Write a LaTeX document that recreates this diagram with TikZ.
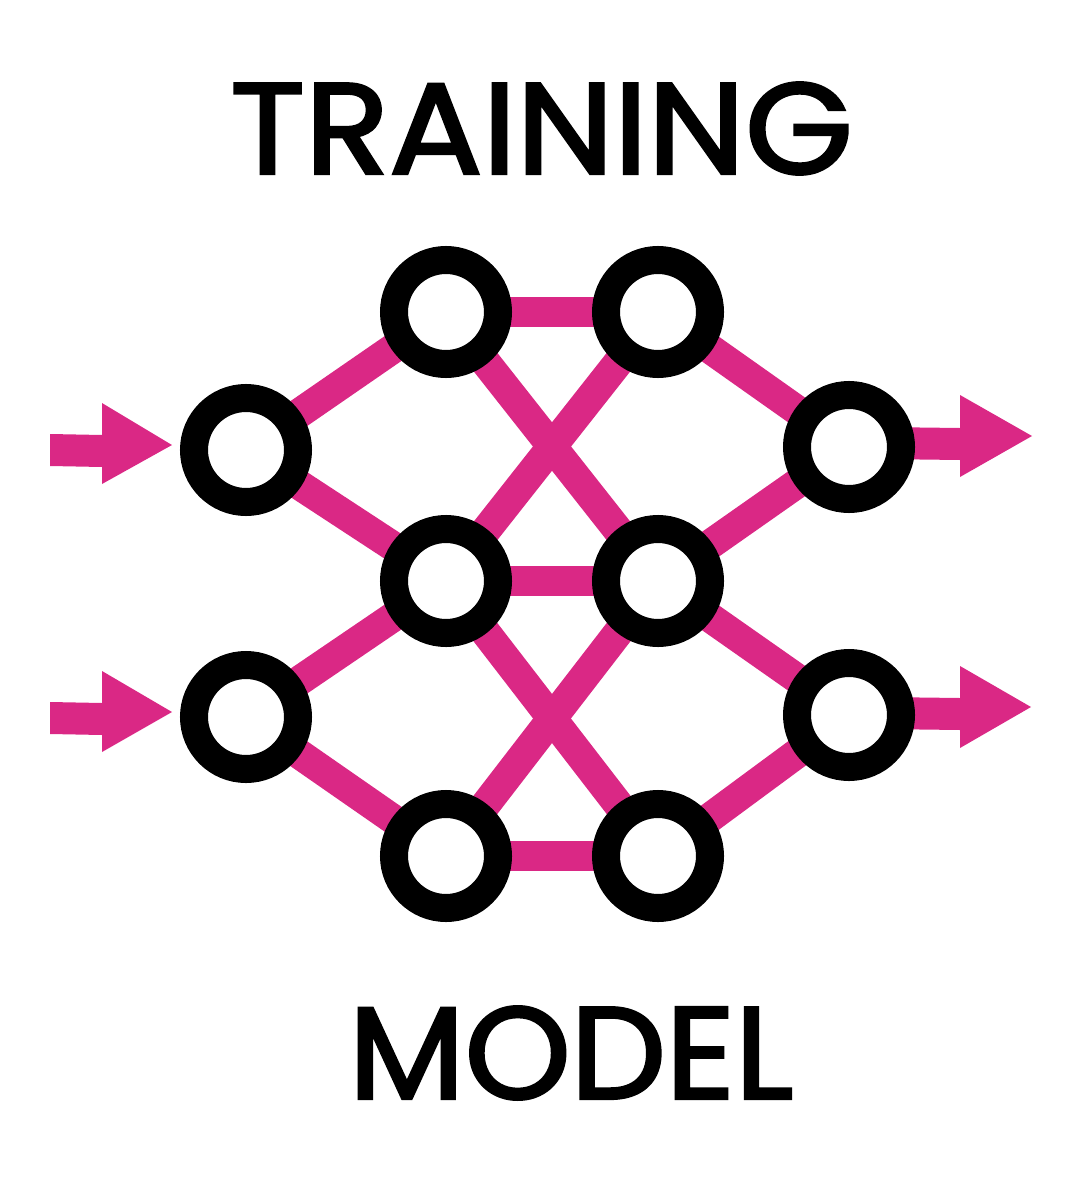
\documentclass[tikz,border=0pt]{standalone}
\usepackage{fontspec}
\usepackage{graphicx}
\newfontfamily\titlefont{Poppins}[FakeBold=2.3]
\definecolor{netpink}{HTML}{DA2885}
\tikzset{
  neuron/.style={circle, draw=black, line width=28pt, fill=white, minimum size=104pt, inner sep=0pt},
  link/.style={draw=netpink, line width=30pt},
  flow/.style={fill=netpink, draw=none},
  title/.style={inner sep=0pt, anchor=center}
}
\begin{document}
\begin{tikzpicture}[x=1pt,y=-1pt]
\useasboundingbox (0,0) rectangle (1080,1180);
% node positions
\coordinate (pI1) at (246,450);
\coordinate (pI2) at (246,717);
\coordinate (pA1) at (446,312);
\coordinate (pA2) at (446,581);
\coordinate (pA3) at (446,856);
\coordinate (pB1) at (658,312);
\coordinate (pB2) at (658,581);
\coordinate (pB3) at (658,856);
\coordinate (pO1) at (849,447);
\coordinate (pO2) at (849,715);
% connections
\draw[link] (pI1) -- (pA1);
\draw[link] (pI1) -- (pA2);
\draw[link] (pI2) -- (pA2);
\draw[link] (pI2) -- (pA3);
\draw[link] (pA1) -- (pB1);
\draw[link] (pA1) -- (pB2);
\draw[link] (pA2) -- (pB1);
\draw[link] (pA2) -- (pB2);
\draw[link] (pA2) -- (pB3);
\draw[link] (pA3) -- (pB2);
\draw[link] (pA3) -- (pB3);
\draw[link] (pB1) -- (pO1);
\draw[link] (pB2) -- (pO1);
\draw[link] (pB2) -- (pO2);
\draw[link] (pB3) -- (pO2);
% input arrows
\fill[flow] (50,434) -- (102,435) -- (102,403) -- (172,445) -- (102,484) -- (102,467) -- (50,466) -- cycle;
\fill[flow] (50,702) -- (102,703) -- (102,671) -- (172,712) -- (102,752) -- (102,735) -- (50,734) -- cycle;
% output arrows
\fill[flow] (880,427) -- (960,428) -- (960,395) -- (1032,436) -- (960,477) -- (960,460) -- (880,459) -- cycle;
\fill[flow] (880,697) -- (960,698) -- (960,666) -- (1031,707) -- (960,748) -- (960,730) -- (880,729) -- cycle;
% neurons
\node[neuron] (I1) at (pI1) {};
\node[neuron] (I2) at (pI2) {};
\node[neuron] (A1) at (pA1) {};
\node[neuron] (A2) at (pA2) {};
\node[neuron] (A3) at (pA3) {};
\node[neuron] (B1) at (pB1) {};
\node[neuron] (B2) at (pB2) {};
\node[neuron] (B3) at (pB3) {};
\node[neuron] (O1) at (pO1) {};
\node[neuron] (O2) at (pO2) {};
% titles
\node[title] (t1) at (541.5,128.5) {\resizebox{622pt}{91pt}{\titlefont TRAINING}};
\node[title] (t2) at (571,1053) {\resizebox{444pt}{92pt}{\titlefont MODEL}};
\end{tikzpicture}
\end{document}
